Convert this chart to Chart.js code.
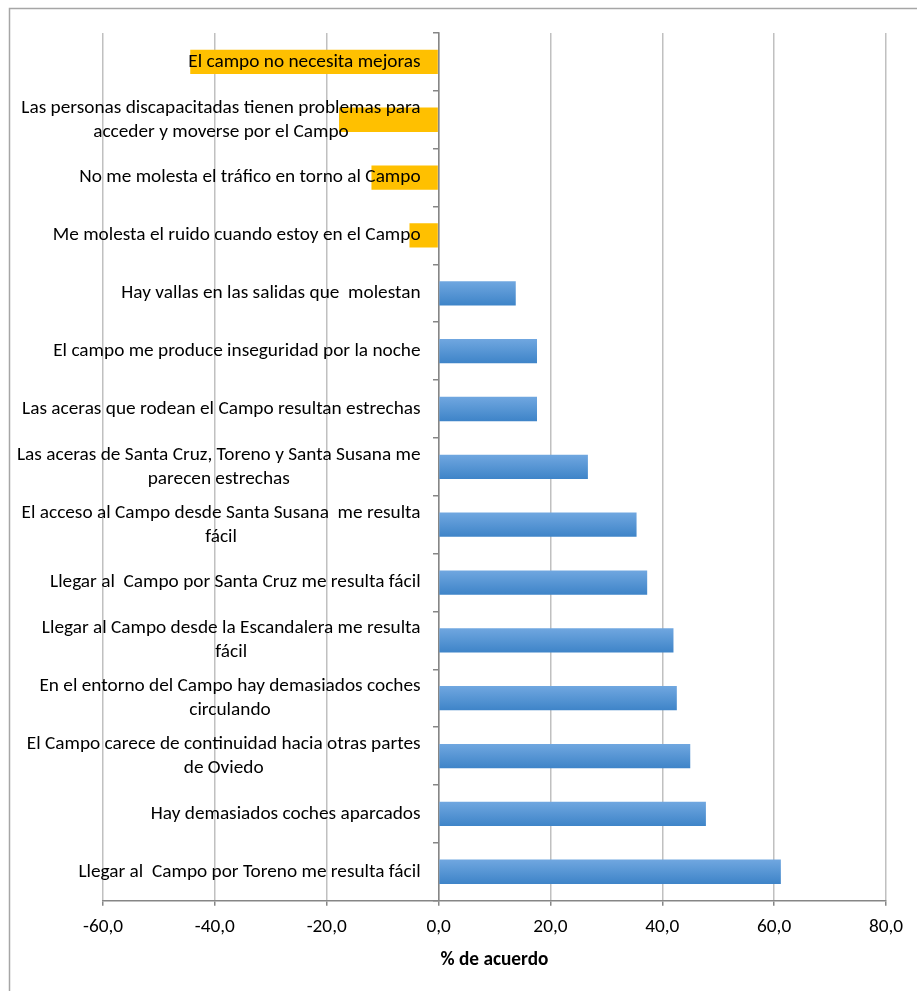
<!DOCTYPE html>
<html>
<head>
<meta charset="utf-8">
<script src="https://cdn.jsdelivr.net/npm/chart.js@4.4.1/dist/chart.umd.min.js"></script>
<style>
  html, body { margin: 0; padding: 0; background: #fff; overflow: hidden; }
</style>
</head>
<body>
<canvas id="chart" width="917" height="991"></canvas>
<script>
// categories, top to bottom
const categories = [
  'El campo no necesita mejoras',
  ['Las personas discapacitadas tienen problemas para', 'acceder y moverse por el Campo'],
  'No me molesta el tráfico en torno al Campo',
  'Me molesta el ruido cuando estoy en el Campo',
  'Hay vallas en las salidas que  molestan',
  'El campo me produce inseguridad por la noche',
  'Las aceras que rodean el Campo resultan estrechas',
  ['Las aceras de Santa Cruz, Toreno y Santa Susana me', 'parecen estrechas'],
  ['El acceso al Campo desde Santa Susana  me resulta', 'fácil'],
  'Llegar al  Campo por Santa Cruz me resulta fácil',
  ['Llegar al Campo desde la Escandalera me resulta', 'fácil'],
  ['En el entorno del Campo hay demasiados coches', 'circulando'],
  ['El Campo carece de continuidad hacia otras partes', 'de Oviedo'],
  'Hay demasiados coches aparcados',
  'Llegar al  Campo por Toreno me resulta fácil'
];

const acuerdo = [-44.4, -17.8, -12.0, -5.2, 13.8, 17.6, 17.6, 26.7, 35.4, 37.3, 42.0, 42.6, 45.0, 47.8, 61.2];

const xTicks = [-60, -40, -20, 0, 20, 40, 60, 80];

const FONT = "Carlito, Calibri, Lato, sans-serif";
const FSIZE = 19.3;
const BAR_PCT = 0.42;

function barColor(context) {
  const v = context.raw;
  if (v < 0) return '#FFC000';
  const chart = context.chart;
  const y = chart.scales && chart.scales.y;
  if (!chart.chartArea || !y) return '#5593D5';
  const mid = y.getPixelForValue(context.dataIndex);
  const half = (y.height / categories.length) * BAR_PCT / 2;
  const g = chart.ctx.createLinearGradient(0, mid - half, 0, mid + half);
  g.addColorStop(0, '#70A7E0');
  g.addColorStop(1, '#3E84C8');
  return g;
}

// frame round the chart
const frame = {
  id: 'frame',
  beforeDraw(chart) {
    const c = chart.ctx;
    c.save();
    c.strokeStyle = '#A6A6A6';
    c.lineWidth = 1.5;
    c.strokeRect(9.5, 8.5, chart.width + 20, chart.height + 20);
    c.restore();
  }
};

// category labels, centred line by line, ending next to the zero axis
const catLabels = {
  id: 'catLabels',
  afterDatasetsDraw(chart) {
    const c = chart.ctx;
    const y = chart.scales.y;
    const x0 = chart.scales.x.getPixelForValue(0);
    const lh = 24;
    c.save();
    c.font = FSIZE + 'px ' + FONT;
    c.fillStyle = '#000';
    c.textAlign = 'center';
    c.textBaseline = 'middle';
    categories.forEach((lab, i) => {
      const lines = Array.isArray(lab) ? lab : [lab];
      const w = Math.max(...lines.map(l => c.measureText(l).width));
      const cx = x0 - 18 - w / 2;
      const cy = y.getPixelForValue(i);
      lines.forEach((l, k) => {
        c.fillText(l, cx, cy + (k - (lines.length - 1) / 2) * lh);
      });
    });
    c.restore();
  }
};

new Chart(document.getElementById('chart'), {
  type: 'bar',
  data: {
    labels: categories,
    datasets: [{
      data: acuerdo,
      backgroundColor: barColor,
      borderWidth: 0,
      barPercentage: BAR_PCT,
      categoryPercentage: 1
    }]
  },
  options: {
    indexAxis: 'y',
    responsive: false,
    animation: false,
    layout: { padding: { left: 103, right: 31, top: 33, bottom: 19 } },
    plugins: {
      legend: { display: false },
      tooltip: { enabled: false }
    },
    scales: {
      x: {
        min: xTicks[0],
        max: xTicks[xTicks.length - 1],
        afterBuildTicks(scale) { scale.ticks = xTicks.map(v => ({ value: v })); },
        grid: { color: '#C0C0C0', lineWidth: 1.5, tickLength: 5, tickColor: '#868686' },
        border: { color: '#868686', width: 1.5 },
        ticks: {
          padding: 10,
          autoSkip: false,
          color: '#000',
          font: { family: FONT, size: FSIZE },
          maxRotation: 0,
          callback: v => v.toFixed(1).replace('.', ',')
        },
        title: {
          display: true,
          text: '% de acuerdo',
          color: '#000',
          font: { family: FONT, size: FSIZE, weight: 'bold' },
          padding: { top: 0, bottom: 0 }
        }
      },
      y: {
        type: 'category',
        position: { x: 0 },
        offset: true,
        grid: { offset: true, drawOnChartArea: false, tickLength: 5, tickColor: '#868686', lineWidth: 1.5 },
        border: { color: '#868686', width: 1.5 },
        ticks: { display: false }
      }
    }
  },
  plugins: [frame, catLabels]
});
</script>
</body>
</html>
